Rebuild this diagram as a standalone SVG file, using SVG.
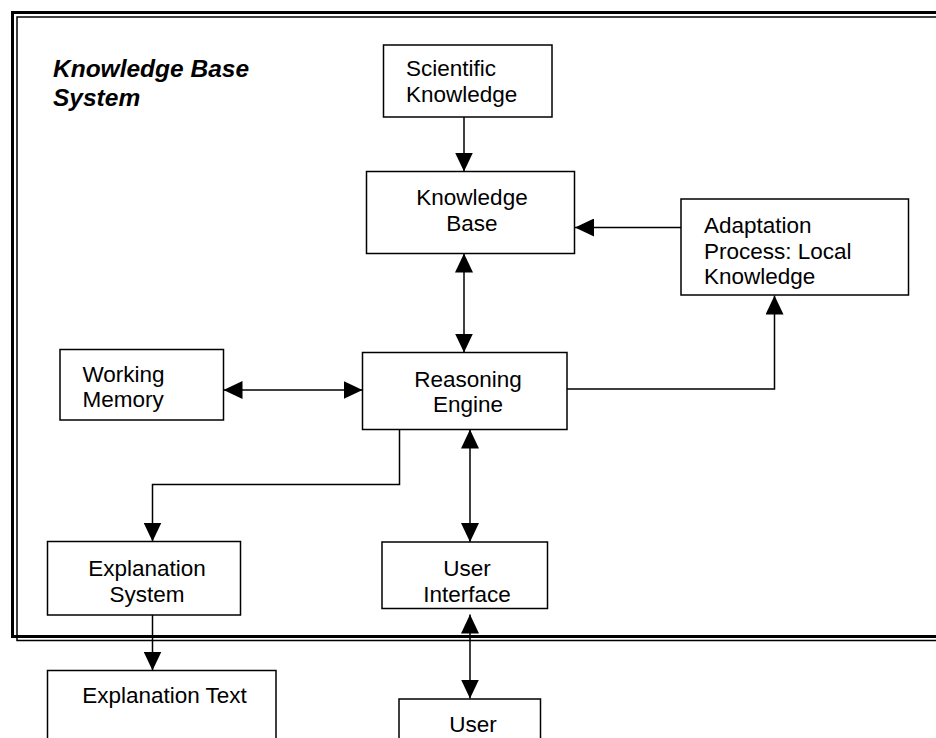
<svg xmlns="http://www.w3.org/2000/svg" width="936" height="738" viewBox="0 0 936 738">
  <style>
    .box { fill: #ffffff; stroke: #000000; stroke-width: 1.5; }
    .lbl { font-family: "Liberation Sans", Arial, sans-serif; font-size: 22.5px; fill: #000000; }
    .mid { text-anchor: middle; }
    .title { font-family: "Liberation Sans", Arial, sans-serif; font-size: 24.5px; font-weight: bold; font-style: italic; fill: #000000; }
    .wire { fill: none; stroke: #000000; stroke-width: 1.5; }
    .frame-thick { fill: none; stroke: #000000; stroke-width: 3; }
    .frame-thin { fill: none; stroke: #000000; stroke-width: 1.5; }
  </style>
  <defs>
    <marker id="head" markerUnits="userSpaceOnUse" markerWidth="20" markerHeight="18" refX="19" refY="9" orient="auto-start-reverse">
      <path d="M0,0 L19,9 L0,18 z" fill="#000000"/>
    </marker>
  </defs>

  <rect width="936" height="738" fill="#ffffff"/>

  <!-- system boundary: double rule, open to the right -->
  <g id="system-frame">
    <path class="frame-thick" d="M936,12.5 H12.5 V636.5 H936"/>
    <path class="frame-thin" d="M936,17 H17 V640.5 H936"/>
    <text class="title" x="53" y="77">Knowledge Base</text>
    <text class="title" x="53" y="106">System</text>
  </g>

  <!-- connectors -->
  <g id="connectors">
    <line class="wire" x1="464" y1="117" x2="464" y2="171.5" marker-end="url(#head)"/>
    <line class="wire" x1="681" y1="227.5" x2="575" y2="227.5" marker-end="url(#head)"/>
    <line class="wire" x1="464" y1="253.5" x2="464" y2="352.5" marker-start="url(#head)" marker-end="url(#head)"/>
    <polyline class="wire" points="567,389 774.5,389 774.5,295.5" marker-end="url(#head)"/>
    <line class="wire" x1="223.5" y1="390" x2="362.5" y2="390" marker-start="url(#head)" marker-end="url(#head)"/>
    <polyline class="wire" points="399.5,427 399.5,484.5 152.5,484.5 152.5,541.5" marker-end="url(#head)"/>
    <line class="wire" x1="470" y1="429.5" x2="470" y2="542" marker-start="url(#head)" marker-end="url(#head)"/>
    <line class="wire" x1="152.5" y1="615" x2="152.5" y2="670.5" marker-end="url(#head)"/>
    <line class="wire" x1="470" y1="614.5" x2="470" y2="698.5" marker-start="url(#head)" marker-end="url(#head)"/>
  </g>

  <!-- nodes -->
  <g id="scientific-knowledge">
    <rect class="box" x="383.5" y="45" width="168.5" height="72"/>
    <text class="lbl" x="406" y="76">Scientific</text>
    <text class="lbl" x="406" y="101.5">Knowledge</text>
  </g>

  <g id="knowledge-base">
    <rect class="box" x="366.5" y="171.5" width="208" height="82"/>
    <text class="lbl mid" x="472" y="205">Knowledge</text>
    <text class="lbl mid" x="472" y="231">Base</text>
  </g>

  <g id="adaptation-process">
    <rect class="box" x="681" y="199" width="227.5" height="96"/>
    <text class="lbl" x="704" y="233">Adaptation</text>
    <text class="lbl" x="704" y="259">Process: Local</text>
    <text class="lbl" x="704" y="284">Knowledge</text>
  </g>

  <g id="working-memory">
    <rect class="box" x="60" y="349.5" width="163.5" height="70.5"/>
    <text class="lbl" x="82.5" y="381.5">Working</text>
    <text class="lbl" x="82.5" y="406.5">Memory</text>
  </g>

  <g id="reasoning-engine">
    <rect class="box" x="362.5" y="352.5" width="204.5" height="77"/>
    <text class="lbl mid" x="468" y="387">Reasoning</text>
    <text class="lbl mid" x="468" y="411.5">Engine</text>
  </g>

  <g id="explanation-system">
    <rect class="box" x="47.5" y="541.5" width="193" height="73.5"/>
    <text class="lbl mid" x="147" y="576">Explanation</text>
    <text class="lbl mid" x="147" y="601.5">System</text>
  </g>

  <g id="user-interface">
    <rect class="box" x="382" y="542" width="165.5" height="66.5"/>
    <text class="lbl mid" x="467" y="576">User</text>
    <text class="lbl mid" x="467" y="601.5">Interface</text>
  </g>

  <g id="explanation-text">
    <rect class="box" x="47.5" y="670.5" width="228.5" height="80"/>
    <text class="lbl mid" x="164.5" y="703">Explanation Text</text>
  </g>

  <g id="user">
    <rect class="box" x="399" y="699" width="141.5" height="50"/>
    <text class="lbl mid" x="473" y="731.5">User</text>
  </g>
</svg>
